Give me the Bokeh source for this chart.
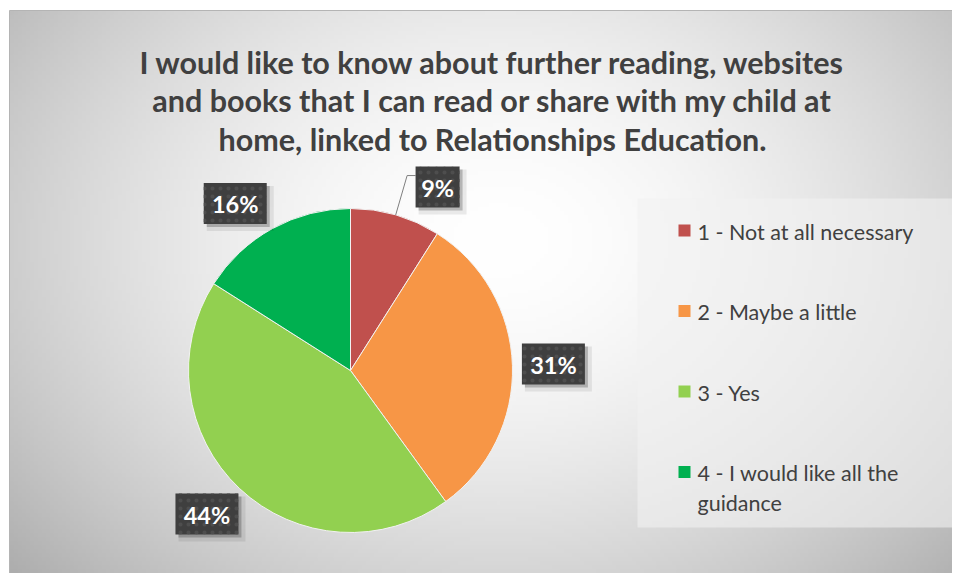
import math
import textwrap
import numpy as np
from bokeh.plotting import figure
from bokeh.models import Range1d
from bokeh.core.properties import value
from bokeh.embed import file_html
from bokeh.resources import INLINE

# ---------------- data ----------------
title_lines = [
    "I would like to know about further reading, websites",
    "and books that I can read or share with my child at",
    "home, linked to Relationships Education.",
]
categories = [
    "1 - Not at all necessary",
    "2 - Maybe a little",
    "3 - Yes",
    "4 - I would like all the guidance",
]
percent = [9, 31, 44, 16]
colors = ["#C0504D", "#F79646", "#92D050", "#00B050"]

# ---------------- layout / style ----------------
W, H = 952, 573
def X(px):  # picture px -> data x
    return px
def Y(py):  # picture py -> data y (y up)
    return H - py

CX, CY, R = X(350), Y(370), 162
LABEL_R = 203
label_nudge_deg = [9.2, 0.0, 1.8, -5.8]   # clockwise nudge of label placement
leader = [True, False, False, False]
TITLE_FONT = "Lato"
FONT = "Lato"

p = figure(width=W, height=H, x_range=Range1d(0, W), y_range=Range1d(0, H),
           output_backend="svg", toolbar_location=None,
           x_axis_location=None, y_axis_location=None, min_border=0)
p.outline_line_color = None
p.grid.visible = False
p.background_fill_color = "white"
p.border_fill_color = "white"

# ---------------- background radial gradient ----------------
nx, ny = 236, 141
x0, x1 = 9, W
y0, y1 = 10, H
xs = x0 + (np.arange(nx) + 0.5) * (x1 - x0) / nx
ys = y1 - (np.arange(ny) + 0.5) * (y1 - y0) / ny   # row 0 at bottom
XX, YY = np.meshgrid(xs, ys)
gcx, gcy, grx, gry = 500, 240, 560, 420
d = np.sqrt(((XX - gcx) / grx) ** 2 + ((YY - gcy) / gry) ** 2)
g = 255 - 62 * np.clip(d, 0, 1.25) ** 1.7
g = np.clip(g, 0, 255).astype(np.uint8)
img = np.empty((ny, nx), dtype=np.uint32)
view = img.view(dtype=np.uint8).reshape((ny, nx, 4))
view[:, :, 0] = g
view[:, :, 1] = g
view[:, :, 2] = g
view[:, :, 3] = 255
p.image_rgba(image=[img], x=X(x0), y=Y(y1), dw=x1 - x0, dh=y1 - y0)

# chart border (top/left)
p.line(x=[X(9), X(9), X(W)], y=[Y(H), Y(10), Y(10)], line_color="#b4b4b4", line_width=1)

# ---------------- title ----------------
title_base = [61, 99.5, 138]
p.text(x=[X(492)] * len(title_lines), y=[Y(b) for b in title_base], text=title_lines,
       text_font=value(TITLE_FONT), text_font_style="bold", text_font_size="30.5px",
       text_color="#404040", text_align="center", text_baseline="alphabetic")

# ---------------- pie ----------------
total = float(sum(percent))
cum = np.cumsum([0] + percent)
start = [math.pi / 2 - 2 * math.pi * cum[i] / total for i in range(len(percent))]
end = [math.pi / 2 - 2 * math.pi * cum[i + 1] / total for i in range(len(percent))]
p.wedge(x=CX, y=CY, radius=R, start_angle=start, end_angle=end, direction="clock",
        fill_color=colors, line_color="#f2f2f2", line_width=1)

# ---------------- data labels ----------------
labels = [f"{v:.0f}%" for v in percent]
lx, ly, bw = [], [], []
for i in range(len(percent)):
    mid = (start[i] + end[i]) / 2 - math.radians(label_nudge_deg[i])
    lx.append(CX + LABEL_R * math.cos(mid))
    ly.append(CY + LABEL_R * math.sin(mid))
    bw.append(19 * len(labels[i]) + 6)
BH = 41

for i in range(len(percent)):
    if leader[i]:
        mid = (start[i] + end[i]) / 2
        ex, ey = CX + R * math.cos(mid), CY + R * math.sin(mid)
        kx, ky = CX + LABEL_R * math.cos(mid), CY + LABEL_R * math.sin(mid)
        p.line(x=[ex, kx, lx[i] - bw[i] / 2], y=[ey, ky, ky], line_color="#7f7f7f", line_width=1)

# shadows
p.rect(x=[v + 5 for v in lx], y=[v - 5 for v in ly], width=[w + 4 for w in bw], height=BH + 4,
       fill_color="black", fill_alpha=0.08, line_color=None)
p.rect(x=[v + 3 for v in lx], y=[v - 3 for v in ly], width=bw, height=BH,
       fill_color="black", fill_alpha=0.22, line_color=None)
# boxes
p.rect(x=lx, y=ly, width=bw, height=BH, fill_color="#3f3f3f", line_color=None,
       hatch_pattern="dot", hatch_color="#4e4e4e", hatch_scale=8, hatch_weight=1.5)
p.text(x=lx, y=[v - 1 for v in ly], text=labels, text_font=value(FONT), text_font_style="bold",
       text_font_size="23.5px", text_color="white", text_align="center", text_baseline="middle")

# ---------------- legend ----------------
p.quad(left=X(637), right=X(955), top=Y(198), bottom=Y(527),
       fill_color="#f2f2f2", fill_alpha=0.6, line_color=None)
item_y = [230 + 80.5 * i for i in range(len(categories))]
p.rect(x=[X(684)] * len(categories), y=[Y(v) for v in item_y], width=12, height=12,
       fill_color=colors, line_color=None)
tx, ty, tt = [], [], []
for i, name in enumerate(categories):
    for j, line in enumerate(textwrap.wrap(name, 24)):
        tx.append(X(697))
        ty.append(Y(item_y[i] + 30 * j + 1))
        tt.append(line)
p.text(x=tx, y=ty, text=tt, text_font=value(FONT), text_font_size="21.5px",
       text_color="#404040", text_align="left", text_baseline="middle")

open("out.html", "w").write(file_html(p, INLINE))
